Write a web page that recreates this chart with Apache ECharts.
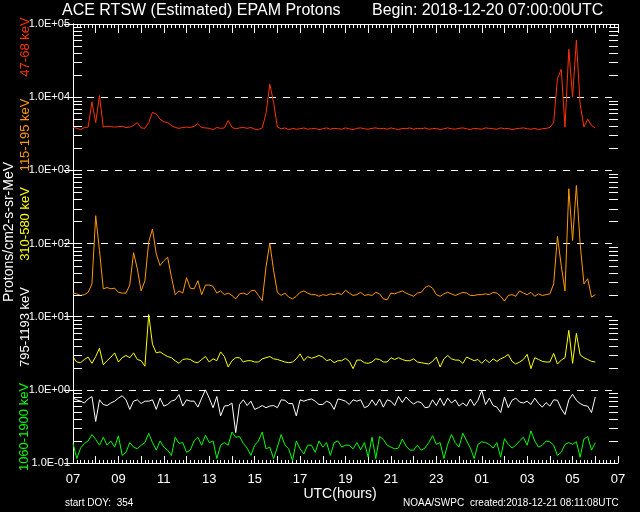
<!DOCTYPE html>
<html><head><meta charset="utf-8">
<script src="https://cdn.jsdelivr.net/npm/echarts@6/dist/echarts.min.js"></script>
<style>html,body{margin:0;padding:0;background:#000;}#c{width:640px;height:512px;}</style>
</head><body><div id="c"></div>
<script>
// 10-minute samples starting 2018-12-20 07:00 UTC
const stepMinutes = 10;
const hourTicks = ['07','09','11','13','15','17','19','21','23','01','03','05','07'];

const p47_68 = [
3900,3750,3600,3850,3900,8600,4500,10500,3900,4000,
3950,3900,3950,4000,3850,3900,4100,4500,3800,3750,
4500,6200,5900,5000,4600,4500,4100,3850,3750,3850,
3900,3850,4000,4350,3850,3800,3750,3600,3850,3750,
3800,4800,3850,3700,3800,3850,3750,3850,3650,3600,
3800,6000,15000,8500,3900,3700,3800,3600,3750,3650,
3700,3800,3650,3700,3750,3600,3700,3800,3650,3750,
3700,3650,3800,3700,3600,3750,3800,3700,3650,3750,
3800,3700,3750,3650,3800,3700,3600,3750,3700,3800,
3650,3750,3700,3800,3650,3700,3750,3600,3700,3800,
3700,3650,3750,3800,3700,3600,3750,3700,3650,3800,
3750,3700,3650,3800,3700,3750,3600,3700,3750,3800,
3700,3650,3750,3600,3700,3750,3850,4500,18000,24000,
3900,45000,10000,60000,8000,3900,5000,4100,3800];

const p115_195 = [
21,20.5,19.5,20,21.5,28,240,80,24,25,
24,24.5,21.5,21,21,27,75,45,22.5,31,
105,158,72,50,58,65,35,20,22.5,21,
34,24.5,24,31,20,27,27,26,21,22.5,
20,21,19.5,17.5,20.5,21,20,22.5,23,19.5,
16.5,48,101,43,21.5,19.5,21,18.5,17.5,19,
21.5,22.5,21,20,20,19,20,19.5,20.5,20,
21,20,23,21,19.5,20,21.5,19.5,20,19.5,
21.5,20.5,17.5,17,21,20.5,21.5,22.5,21,20,
19,21,21.5,25,26.5,24.5,20,19,20.5,21.5,
20.5,19.5,20.5,21.5,21,19.5,19.5,20,20,20.5,
20,21.5,21,19,16.3,19.5,20,19,22.5,21,
20,21.5,19,20.5,19.5,20,20.5,28,125,50,
22.5,560,110,620,100,28,33,18.5,20];

const p310_580 = [
2.8,2.4,2.35,2.6,2.8,2.3,2.85,3.7,2.2,2.5,
2.8,3.2,2.4,2.75,2.95,2.75,3.2,2.6,2.5,2.1,
10.7,4.2,3.2,3.3,3.05,2.85,2.75,2.5,2.3,2.6,
2.65,2.6,2.4,2.35,2.6,2.85,2.4,2.65,2.5,3.3,
2.85,2.05,2.5,2.75,2.75,2.4,2.5,2.5,2.4,2.4,
2.65,2.75,2.85,2.65,2.6,2.5,2.4,2.35,2.4,2.65,
3.1,2.5,2.85,2.7,2.8,2.95,2.8,2.5,2.6,2.35,
2.5,2.5,2.7,2.45,1.95,2.55,2.55,2.35,2.3,2.4,
2.65,2.6,2.4,2.4,2.75,2.6,2.75,2.6,2.5,2.5,
2.65,2.4,2.35,2.3,2.25,2.45,2.8,2.05,2.65,2.95,
2.65,2.55,2.55,2.3,2.8,2.65,2.5,2.6,2.3,2.6,
2.35,2.65,2.45,2.65,2.8,3.05,2.45,2.25,2.4,2.6,
3.05,1.95,2.75,2.6,2.45,2.4,2.4,3.15,2.25,2.55,
2.75,6.5,2.3,5.9,3.0,2.75,2.6,2.45,2.4];

const p795_1193 = [
0.77,0.73,0.70,0.66,0.75,0.81,0.37,0.73,0.63,0.61,
0.66,0.70,0.77,0.83,0.73,0.54,0.70,0.73,0.65,0.70,
0.70,0.73,0.54,0.77,0.60,0.63,0.70,0.73,0.86,0.60,
0.73,0.70,0.70,0.58,0.77,1.0,0.77,0.57,0.81,0.44,
0.60,0.61,0.66,0.26,0.63,0.73,0.61,0.70,0.54,0.57,
0.61,0.57,0.60,0.61,0.57,0.73,0.72,0.65,0.65,0.44,
0.73,0.70,0.73,0.75,0.70,0.63,0.63,0.70,0.66,0.54,
0.75,0.73,0.70,0.63,0.73,0.70,0.73,0.57,0.60,0.73,
0.61,0.75,0.58,0.73,0.70,0.61,0.81,0.67,0.80,0.70,
0.64,0.69,0.67,0.57,0.58,0.73,0.61,0.77,0.61,0.77,
0.66,0.73,0.60,0.66,0.60,0.75,0.61,0.72,0.98,0.63,
0.77,0.61,0.58,0.49,0.80,0.57,0.72,0.77,0.68,0.66,
0.70,0.63,0.77,0.65,0.58,0.67,0.60,0.73,0.72,0.55,
0.46,0.73,0.87,0.72,0.65,0.61,0.60,0.49,0.80];

const p1060_1900 = [
0.185,0.115,0.16,0.185,0.20,0.245,0.21,0.175,0.225,0.175,
0.20,0.165,0.235,0.127,0.14,0.19,0.165,0.156,0.175,0.19,
0.255,0.19,0.15,0.20,0.165,0.15,0.127,0.225,0.185,0.19,
0.14,0.15,0.20,0.225,0.175,0.24,0.19,0.20,0.115,0.175,
0.19,0.175,0.265,0.225,0.23,0.185,0.16,0.127,0.175,0.20,
0.265,0.156,0.165,0.115,0.165,0.245,0.175,0.156,0.108,0.20,
0.156,0.133,0.175,0.175,0.14,0.20,0.165,0.19,0.127,0.19,
0.20,0.165,0.175,0.175,0.156,0.19,0.152,0.19,0.12,0.225,
0.115,0.23,0.21,0.175,0.165,0.156,0.16,0.213,0.17,0.15,
0.15,0.175,0.15,0.16,0.19,0.236,0.18,0.19,0.115,0.18,
0.245,0.19,0.165,0.255,0.20,0.16,0.115,0.18,0.195,0.19,
0.18,0.16,0.19,0.12,0.215,0.18,0.16,0.175,0.20,0.225,
0.175,0.275,0.20,0.165,0.175,0.20,0.195,0.175,0.127,0.14,
0.18,0.19,0.18,0.195,0.12,0.213,0.23,0.15,0.19];

const seriesNames = ['47-68 keV','115-195 keV','310-580 keV','795-1193 keV','1060-1900 keV'];
const seriesColors = ['#ff3300','#ff9900','#ffff00','#ffffff','#00ff00'];
const seriesValues = [p47_68, p115_195, p310_580, p795_1193, p1060_1900];

const decades = [-1,0,1,2,3,4];
const minorMults = [2,3,4,5,6,7,8,9];

const FONT = '"Liberation Sans", Arial, sans-serif';
function sci(v){
  const e = Math.round(Math.log10(v));
  return '1.0E' + (e < 0 ? '-' : '+') + String(Math.abs(e)).padStart(2,'0');
}
const hours = p47_68.map((_, i) => i * stepMinutes / 60);

const minorTickData = [];
decades.forEach(d => minorMults.forEach(m => minorTickData.push([0, m * Math.pow(10, d)])));

const tickSeries = {
  type: 'custom', silent: true, clip: false, z: 5,
  data: minorTickData,
  renderItem: function(params, api){
    const v = api.value(1);
    const pl = api.coord([0, v]);
    const pr = api.coord([24, v]);
    const y = Math.round(pl[1]) + 0.5;
    return { type: 'group', children: [
      { type: 'line', shape: { x1: pl[0], y1: y, x2: pl[0] + 9, y2: y }, style: { stroke: '#fff', lineWidth: 1 } },
      { type: 'line', shape: { x1: pr[0] - 9, y1: y, x2: pr[0], y2: y }, style: { stroke: '#fff', lineWidth: 1 } }
    ]};
  }
};

const lineSeries = seriesValues.map((arr, k) => ({
  type: 'line', name: seriesNames[k],
  data: arr.map((v, i) => [hours[i], v]),
  showSymbol: false,
  lineStyle: { color: seriesColors[k], width: 1 },
  itemStyle: { color: seriesColors[k] },
  z: 3
}));

const chart = echarts.init(document.getElementById('c'));
chart.setOption({
  backgroundColor: '#000',
  animation: false,
  grid: { left: 73, right: 22, top: 24, bottom: 49 },
  xAxis: [
    { type: 'value', min: 0, max: 24, interval: 1, position: 'bottom',
      axisLine: { show: true, lineStyle: { color: '#fff', width: 1 } },
      axisTick: { show: true, inside: true, length: 7, lineStyle: { color: '#fff', width: 1 } },
      minorTick: { show: true, splitNumber: 6, length: 3, lineStyle: { color: '#fff', width: 1 } },
      splitLine: { show: false },
      axisLabel: { color: '#fff', fontSize: 13, fontFamily: FONT, margin: 10,
        formatter: v => (v % 2 === 0 ? hourTicks[v / 2] : '') } },
    { type: 'value', min: 0, max: 24, interval: 1, position: 'top',
      axisLine: { show: true, lineStyle: { color: '#fff', width: 1 } },
      axisTick: { show: true, inside: true, length: 9, lineStyle: { color: '#fff', width: 1 } },
      minorTick: { show: true, splitNumber: 6, length: 4, lineStyle: { color: '#fff', width: 1 } },
      splitLine: { show: false }, axisLabel: { show: false } }
  ],
  yAxis: [
    { type: 'log', logBase: 10, min: 0.1, max: 100000, position: 'left',
      axisLine: { show: true, lineStyle: { color: '#fff', width: 1 } },
      axisTick: { show: true, inside: true, length: 9, lineStyle: { color: '#fff', width: 1 } },
      axisLabel: { color: '#fff', fontSize: 11, fontFamily: FONT, margin: 3, formatter: sci },
      splitLine: { show: true, lineStyle: { color: '#fff', width: 1, type: [7, 7] } } },
    { type: 'log', logBase: 10, min: 0.1, max: 100000, position: 'right',
      axisLine: { show: true, lineStyle: { color: '#fff', width: 1 } },
      axisTick: { show: true, inside: true, length: 9, lineStyle: { color: '#fff', width: 1 } },
      axisLabel: { show: false }, splitLine: { show: false } }
  ],
  series: [tickSeries].concat(lineSeries),
  graphic: [
    { type: 'text', x: 62, y: 11, style: { text: 'ACE RTSW (Estimated) EPAM Protons', fill: '#fff', font: '16px ' + FONT, align: 'left', verticalAlign: 'middle' } },
    { type: 'text', x: 372, y: 11, style: { text: 'Begin: 2018-12-20 07:00:00UTC', fill: '#fff', font: '16px ' + FONT, align: 'left', verticalAlign: 'middle' } },
    { type: 'text', x: 340, y: 494, style: { text: 'UTC(hours)', fill: '#fff', font: '14px ' + FONT, align: 'center', verticalAlign: 'middle' } },
    { type: 'text', x: 65, y: 503, style: { text: 'start DOY:  354', fill: '#fff', font: '10px ' + FONT, align: 'left', verticalAlign: 'middle' } },
    { type: 'text', x: 403, y: 503, style: { text: 'NOAA/SWPC', fill: '#fff', font: '10px ' + FONT, align: 'left', verticalAlign: 'middle' } },
    { type: 'text', x: 470, y: 503, style: { text: 'created:2018-12-21 08:11:08UTC', fill: '#fff', font: '10px ' + FONT, align: 'left', verticalAlign: 'middle' } },
    { type: 'text', x: 25, y: 47, rotation: Math.PI / 2, style: { text: seriesNames[0], fill: seriesColors[0], font: '13px ' + FONT, align: 'center', verticalAlign: 'middle' } },
    { type: 'text', x: 25, y: 135, rotation: Math.PI / 2, style: { text: seriesNames[1], fill: seriesColors[1], font: '13px ' + FONT, align: 'center', verticalAlign: 'middle' } },
    { type: 'text', x: 25, y: 224, rotation: Math.PI / 2, style: { text: seriesNames[2], fill: seriesColors[2], font: '13px ' + FONT, align: 'center', verticalAlign: 'middle' } },
    { type: 'text', x: 25, y: 327, rotation: Math.PI / 2, style: { text: seriesNames[3], fill: seriesColors[3], font: '13px ' + FONT, align: 'center', verticalAlign: 'middle' } },
    { type: 'text', x: 24, y: 427, rotation: Math.PI / 2, style: { text: seriesNames[4], fill: seriesColors[4], font: '13px ' + FONT, align: 'center', verticalAlign: 'middle' } },
    { type: 'text', x: 9, y: 232, rotation: Math.PI / 2, style: { text: 'Protons/cm2-s-sr-MeV', fill: '#fff', font: '14px ' + FONT, align: 'center', verticalAlign: 'middle' } }
  ]
});
</script></body></html>
